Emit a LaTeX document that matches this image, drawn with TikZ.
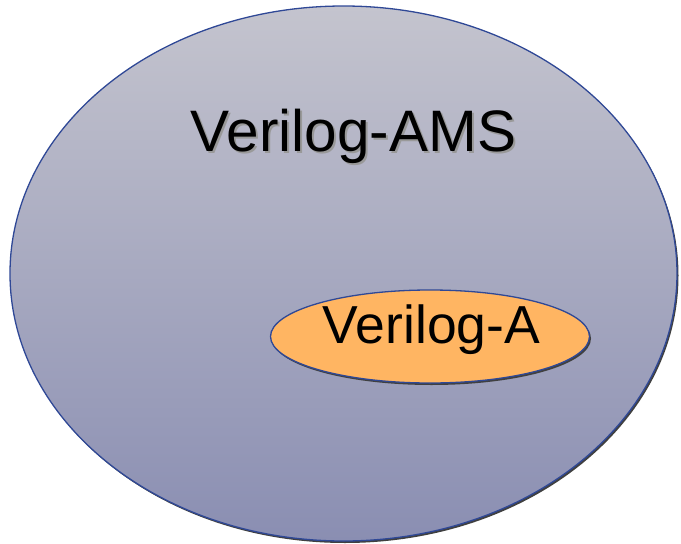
\documentclass[tikz,border=0pt]{standalone}
\usepackage{fontspec}
\setmainfont{Liberation Sans}
\usetikzlibrary{shapes.geometric,shadows}
\definecolor{setedge}{RGB}{47,72,150}
\definecolor{topgray}{RGB}{196,196,206}
\definecolor{botblue}{RGB}{138,142,178}
\definecolor{subfill}{RGB}{255,181,98}

\begin{document}
\begin{tikzpicture}[x=1pt, y=-1pt,
  setshape/.style={ellipse, draw=setedge, line width=1.3pt, inner sep=0pt,
    drop shadow={shadow xshift=1.5pt, shadow yshift=-2pt, fill=black!75, opacity=1}},
  setlabel/.style={inner sep=0pt, anchor=base}]
\useasboundingbox (0,0) rectangle (681,544);
% outer set
\node[setshape, minimum width=667pt, minimum height=535pt,
  top color=topgray, bottom color=botblue] (ams) at (343.5,273.5) {};
\node[setlabel] (amslabel) at (353.5,151) {\fontsize{58.5}{60}\selectfont
  \rlap{\raisebox{-2pt}{\kern2pt\color{black!40}Verilog-AMS}}Verilog-AMS};
% inner set
\node[setshape, minimum width=319pt, minimum height=93pt, fill=subfill] (va) at (430,336.5) {};
\node[setlabel] (valabel) at (431.5,343) {\fontsize{53.5}{55}\selectfont Verilog-A};
\end{tikzpicture}
\end{document}
